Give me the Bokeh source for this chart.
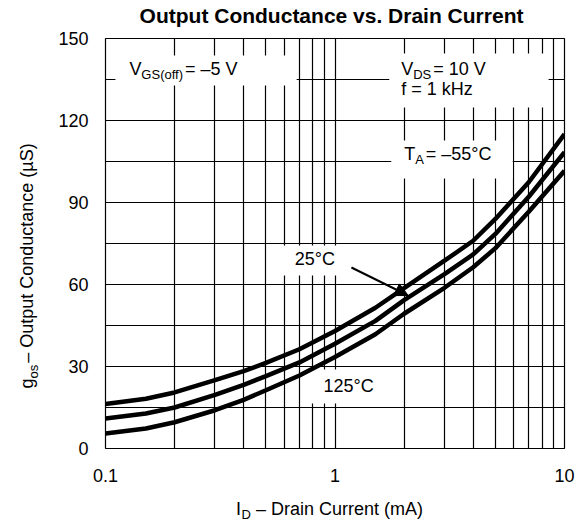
import math
from bokeh.plotting import figure
from bokeh.models import FixedTicker, CustomJSTickFormatter, Label, Arrow, NormalHead
from bokeh.embed import file_html
from bokeh.resources import INLINE

# ---------------- data ----------------
current_ma = [0.1, 0.15, 0.2, 0.3, 0.4, 0.5, 0.7, 1, 1.5, 2, 3, 4, 5, 7, 10]
gos_m55c = [16.3, 18.2, 20.5, 25.0, 28.3, 31.3, 36.3, 43.0, 51.5, 58.7, 68.7, 76.0, 84.0, 97.5, 115.0]
gos_25c = [11.0, 12.8, 15.0, 19.6, 23.3, 26.5, 31.5, 38.3, 46.7, 54.3, 63.8, 71.0, 78.5, 92.2, 108.4]
gos_125c = [5.5, 7.3, 9.6, 14.0, 17.8, 21.3, 26.7, 33.5, 41.8, 49.3, 58.8, 66.3, 73.3, 86.7, 101.6]

x_ticks = [0.1, 1, 10]
y_ticks = [0, 30, 60, 90, 120, 150]
y_grid = [0, 15, 30, 45, 60, 75, 90, 105, 120, 135, 150]
x_grid = [0.1, 0.2, 0.3, 0.4, 0.5, 0.6, 0.7, 0.8, 0.9,
          1, 2, 3, 4, 5, 6, 7, 8, 9, 10]

title_text = "Output Conductance vs. Drain Current"

# ---------------- layout ----------------
FONT = "Liberation Sans"
W, H = 581, 523
ML, MT = 103, 38
FRAME_W, FRAME_H = 461, 410
MR = W - ML - FRAME_W
MB = H - MT - FRAME_H
FL, FR = ML, ML + FRAME_W
FT, FB = MT, MT + FRAME_H
BASE_FIX = 0.36  # empirical offset (in em) between the anchor and the drawn baseline


def px2x(px):
    return 0.1 * 10 ** (2 * (px - FL) / (FR - FL))


def px2y(py):
    return 150 * (FB - py) / (FB - FT)


# Arial / Liberation Sans advance widths (per 1000 em)
AW = {' ': 278, '\u00a0': 278, '(': 333, ')': 333, '–': 556, '=': 584, '.': 278, '°': 400,
      'µ': 576, 'A': 667, 'C': 722, 'D': 722, 'G': 778, 'H': 722, 'I': 278, 'O': 778,
      'S': 667, 'T': 611, 'V': 667, 'a': 556, 'c': 500, 'd': 556, 'e': 556, 'f': 278,
      'g': 556, 'i': 222, 'k': 500, 'm': 833, 'n': 556, 'o': 556, 'p': 556, 'r': 333,
      's': 500, 't': 278, 'u': 556, 'z': 500}
for _d in "0123456789":
    AW[_d] = 556


def tw(s, size):
    return sum(AW.get(c, 556) for c in s) * size / 1000.0


p = figure(width=W, height=H, x_axis_type="log", x_range=(0.1, 10), y_range=(0, 150),
           title=None, output_backend="svg", toolbar_location=None,
           min_border_left=ML, min_border_right=MR, min_border_top=MT, min_border_bottom=MB,
           background_fill_color="white", border_fill_color="white")

p.outline_line_color = "black"
p.outline_line_width = 1.2
p.outline_line_alpha = 1

p.xgrid.ticker = FixedTicker(ticks=x_grid)
p.ygrid.ticker = FixedTicker(ticks=y_grid)
for g in (p.xgrid, p.ygrid):
    g.grid_line_color = "black"
    g.grid_line_width = 1.2
    g.grid_line_alpha = 1

p.xaxis.ticker = FixedTicker(ticks=x_ticks)
p.xaxis.formatter = CustomJSTickFormatter(code="return String(tick);")
p.yaxis.ticker = FixedTicker(ticks=y_ticks)
for ax in (p.xaxis, p.yaxis):
    ax.axis_line_color = None
    ax.major_tick_line_color = None
    ax.minor_tick_line_color = None
    ax.major_label_text_font = FONT
    ax.major_label_text_font_size = "18px"
    ax.major_label_text_color = "black"
p.xaxis.major_label_standoff = 14
p.yaxis.major_label_standoff = 11

# white boxes behind the annotation texts (hide the grid)
boxes_px = [(113, 295, 55, 85), (388, 548, 53, 107), (390, 512, 140, 178),
            (270, 347, 245, 275), (305, 390, 369, 403)]
p.quad(left=[px2x(b[0]) for b in boxes_px], right=[px2x(b[1]) for b in boxes_px],
       top=[px2y(b[2]) for b in boxes_px], bottom=[px2y(b[3]) for b in boxes_px],
       fill_color="white", line_color=None)

for ys in (gos_m55c, gos_25c, gos_125c):
    p.line(current_ma, ys, line_width=4.5, line_color="black")

p.add_layout(Arrow(end=NormalHead(size=13, fill_color="black", line_color="black", line_width=1),
                   x_start=px2x(350), y_start=px2y(267), x_end=px2x(407), y_end=px2y(295),
                   line_width=2, line_color="black"))

BIG, SUB, DROP, GAP = 18, 13, 4, 2


def make_label(text, size, x_px, y_px, angle=0.0, align="left", style="normal"):
    # x_px, y_px: wanted start of the baseline, in canvas pixels
    fix = BASE_FIX * size
    if angle == 0:
        x, y = px2x(x_px), px2y(y_px - fix)
    else:
        x, y = px2x(x_px - fix), px2y(y_px)
    return Label(x=x, y=y, text=text, angle=angle, text_font=FONT,
                 text_font_size=f"{size}px", text_font_style=style, text_color="black",
                 text_align=align, text_baseline="alphabetic")


def add_text(parts, x_px, y_px, angle=0.0, place="center"):
    pos = 0.0
    for text, size, dy in parts:
        if angle == 0:
            lab = make_label(text, size, x_px + pos, y_px + dy)
        else:
            lab = make_label(text, size, x_px + dy, y_px - pos, angle)
        if place == "center":
            p.add_layout(lab)
        else:
            p.add_layout(lab, place)
        pos += tw(text, size) + (GAP if size == SUB else 0)


# chart title (in the top panel, so it is not clipped)
p.add_layout(make_label(title_text, 21, 330, 23, align="center", style="bold"), "above")

add_text([("V", BIG, 0), ("GS(off)", SUB, DROP), (" = –5 V", BIG, 0)], 127, 75)
add_text([("V", BIG, 0), ("DS", SUB, DROP), (" = 10 V", BIG, 0)], 400, 75)
add_text([("f = 1 kHz", BIG, 0)], 400, 95)
add_text([("T", BIG, 0), ("A", SUB, DROP), (" = –55°C", BIG, 0)], 403, 160)
add_text([("25°C", BIG, 0)], 293, 265)
add_text([("125°C", BIG, 0)], 322, 392)

# x-axis title: main text below, subscript in the right-hand panel (both unclipped)
XL_X, XL_Y = 234, 515
p.add_layout(make_label("I\u00a0\u00a0 – Drain Current (mA)", BIG, XL_X, XL_Y), "below")
p.add_layout(make_label("D", SUB, XL_X + tw("I", BIG) + 0.5, XL_Y + DROP), "right")

# y-axis title with subscript (left panel)
add_text([("g", BIG, 0), ("os", SUB, DROP), (" – Output Conductance (µS)", BIG, 0)],
         31, 388, angle=math.pi / 2, place="left")

open("out.html", "w").write(file_html(p, INLINE))
